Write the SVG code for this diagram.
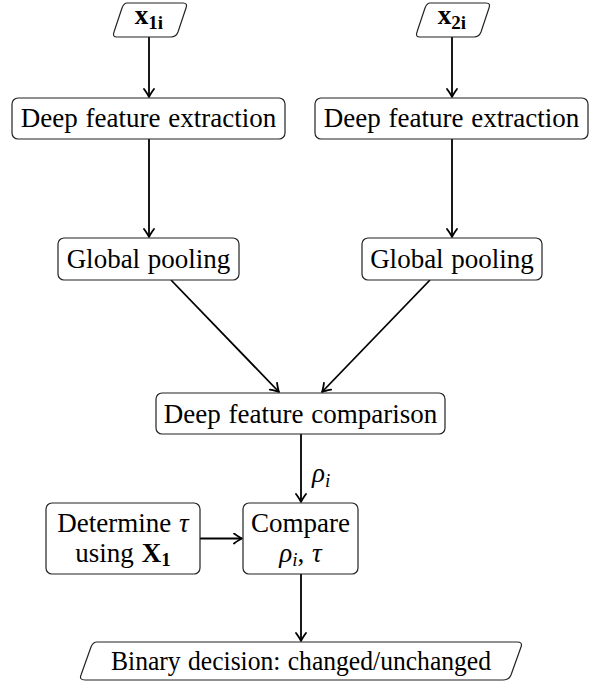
<svg xmlns="http://www.w3.org/2000/svg" width="595" height="685" viewBox="0 0 595 685">
<style>
.box{fill:#fff;stroke:#222;stroke-width:1.2}
.t{font-family:"Liberation Serif","Times New Roman",serif;font-size:27px;fill:#000;text-anchor:middle;word-spacing:1px}
.m{font-style:italic}
.b{font-weight:bold}
.s{font-size:19px}
.c{fill:none;stroke:#000;stroke-width:1.8}
</style>
<defs>
<marker id="ah" viewBox="-10 -6 12 12" refX="0" refY="0" markerWidth="12" markerHeight="12" markerUnits="userSpaceOnUse" orient="auto">
<path d="M-8,-5 Q-2.5,-1 0,0 Q-2.5,1 -8,5" fill="none" stroke="#000" stroke-width="1.8" stroke-linecap="round" stroke-linejoin="round"/>
</marker>
</defs>
<g id="connectors">
<line class="c" x1="149" y1="37" x2="149" y2="97" marker-end="url(#ah)"/>
<line class="c" x1="452" y1="37" x2="452" y2="97" marker-end="url(#ah)"/>
<line class="c" x1="149" y1="139" x2="149" y2="237" marker-end="url(#ah)"/>
<line class="c" x1="452" y1="139" x2="452" y2="237" marker-end="url(#ah)"/>
<line class="c" x1="171" y1="280" x2="279" y2="392" marker-end="url(#ah)"/>
<line class="c" x1="430" y1="280" x2="322" y2="392" marker-end="url(#ah)"/>
<line class="c" x1="301" y1="434" x2="301" y2="502" marker-end="url(#ah)"/>
<line class="c" x1="200" y1="538.5" x2="242" y2="538.5" marker-end="url(#ah)"/>
<line class="c" x1="301" y1="574" x2="301" y2="641" marker-end="url(#ah)"/>
<text class="t m" x="312" y="482" style="text-anchor:start">ρ<tspan class="s" dy="5">i</tspan></text>
</g>
<g id="x1i">
<path class="box" d="M127,3 L183,3 Q188,3 186,8 L178,32 Q176,37 171,37 L117,37 Q112,37 114,32 L122,8 Q124,3 127,3 Z"/>
<text class="t b" x="149" y="24">x<tspan class="s" dy="5">1i</tspan></text>
</g>
<g id="x2i">
<path class="box" d="M430,3 L486,3 Q491,3 489,8 L481,32 Q479,37 474,37 L420,37 Q415,37 417,32 L425,8 Q427,3 430,3 Z"/>
<text class="t b" x="452" y="24">x<tspan class="s" dy="5">2i</tspan></text>
</g>
<g id="dfe1">
<rect class="box" x="12" y="98" width="273" height="41" rx="6"/>
<text class="t" x="148.5" y="127">Deep feature extraction</text>
</g>
<g id="dfe2">
<rect class="box" x="315" y="98" width="273" height="41" rx="6"/>
<text class="t" x="451.5" y="127">Deep feature extraction</text>
</g>
<g id="gp1">
<rect class="box" x="58" y="238" width="181" height="42" rx="6"/>
<text class="t" x="148.5" y="268">Global pooling</text>
</g>
<g id="gp2">
<rect class="box" x="362" y="238" width="180" height="42" rx="6"/>
<text class="t" x="452" y="268">Global pooling</text>
</g>
<g id="dfc">
<rect class="box" x="156" y="393" width="289" height="41" rx="6"/>
<text class="t" x="300.5" y="423">Deep feature comparison</text>
</g>
<g id="determine">
<rect class="box" x="46" y="503" width="154" height="71" rx="6"/>
<text class="t" x="123" y="532">Determine <tspan class="m">τ</tspan></text>
<text class="t" x="123" y="562">using <tspan class="b">X</tspan><tspan class="b s" dy="4">1</tspan></text>
</g>
<g id="compare">
<rect class="box" x="243" y="503" width="115" height="71" rx="6"/>
<text class="t" x="300.5" y="532">Compare</text>
<text class="t m" x="300.5" y="562">ρ<tspan class="s" dy="4">i</tspan><tspan dy="-4" font-style="normal">, </tspan>τ</text>
</g>
<g id="decision">
<path class="box" d="M97,642 L517,642 Q523,642 521,647 L511,675 Q509,680 503,680 L85,680 Q79,680 81,675 L91,647 Q93,642 97,642 Z"/>
<text class="t" x="301" y="670" textLength="380" lengthAdjust="spacingAndGlyphs">Binary decision: changed/unchanged</text>
</g>
</svg>
